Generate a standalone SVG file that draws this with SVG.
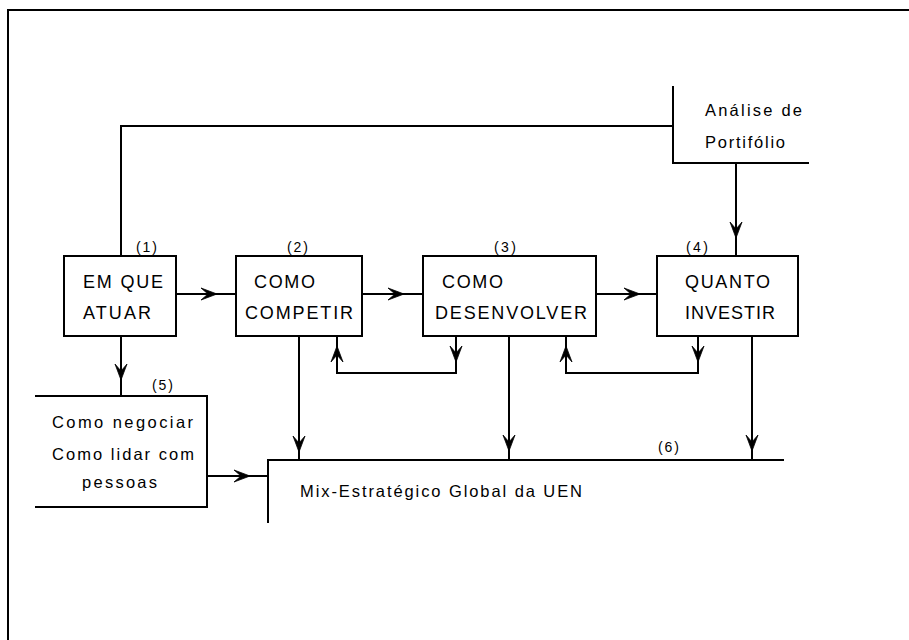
<svg xmlns="http://www.w3.org/2000/svg" xmlns:xlink="http://www.w3.org/1999/xlink" width="909" height="640" viewBox="0 0 909 640">
<style>
.ln{fill:none;stroke:#000;stroke-width:2;stroke-linecap:square}
.bx{fill:#fff;stroke:#000;stroke-width:2}
.t{font-family:"Liberation Sans",Arial,sans-serif;fill:#000}
.big{font-size:18px}
.mid{font-size:16.5px}
.sm{font-size:14px}
</style>
<defs>
<path id="ah" d="M0,0 L-16,-6 L-9,0 L-16,6 Z" fill="#000" stroke="#000" stroke-width="0.8" stroke-linejoin="miter"/>
</defs>
<rect width="909" height="640" fill="#fff"/>
<path class="ln" d="M8,640 V10 H909" stroke-width="3"/>

<g id="connectors">
  <path class="ln" d="M121,256 V126 H673"/>
  <path class="ln" d="M736,163 V256"/>
  <use xlink:href="#ah" transform="translate(736,238) rotate(90)"/>
  <path class="ln" d="M176,294 H236"/>
  <use xlink:href="#ah" transform="translate(217,294)"/>
  <path class="ln" d="M362,294 H423"/>
  <use xlink:href="#ah" transform="translate(404,294)"/>
  <path class="ln" d="M596,294 H657"/>
  <use xlink:href="#ah" transform="translate(640,294)"/>
  <path class="ln" d="M121,336 V396"/>
  <use xlink:href="#ah" transform="translate(121,380) rotate(90)"/>
  <path class="ln" d="M207,476 H268"/>
  <use xlink:href="#ah" transform="translate(250,476)"/>
  <path class="ln" d="M299,336 V460"/>
  <use xlink:href="#ah" transform="translate(299,452) rotate(90)"/>
  <path class="ln" d="M509,336 V460"/>
  <use xlink:href="#ah" transform="translate(509,451) rotate(90)"/>
  <path class="ln" d="M752,336 V460"/>
  <use xlink:href="#ah" transform="translate(752,451) rotate(90)"/>
  <path class="ln" d="M337,336 V373 H456 V336"/>
  <use xlink:href="#ah" transform="translate(337,346) rotate(-90)"/>
  <use xlink:href="#ah" transform="translate(456,362) rotate(90)"/>
  <path class="ln" d="M566,336 V373 H698 V336"/>
  <use xlink:href="#ah" transform="translate(566,346) rotate(-90)"/>
  <use xlink:href="#ah" transform="translate(698,362) rotate(90)"/>
</g>

<g id="portfolio">
  <path class="ln" d="M673,87 V163 H808"/>
  <text class="t mid" x="705" y="116" textLength="97" lengthAdjust="spacing">Análise de</text>
  <text class="t mid" x="705" y="148" textLength="80" lengthAdjust="spacing">Portifólio</text>
</g>

<g id="n1">
  <rect class="bx" x="64" y="256" width="112" height="80"/>
  <text class="t sm" x="136" y="252" textLength="21" lengthAdjust="spacing">(1)</text>
  <text class="t big" x="83" y="288" textLength="80" lengthAdjust="spacing">EM QUE</text>
  <text class="t big" x="83" y="319" textLength="68" lengthAdjust="spacing">ATUAR</text>
</g>

<g id="n2">
  <rect class="bx" x="236" y="256" width="126" height="80"/>
  <text class="t sm" x="287" y="252" textLength="21" lengthAdjust="spacing">(2)</text>
  <text class="t big" x="254" y="288" textLength="61" lengthAdjust="spacing">COMO</text>
  <text class="t big" x="245" y="319" textLength="108" lengthAdjust="spacing">COMPETIR</text>
</g>

<g id="n3">
  <rect class="bx" x="423" y="256" width="173" height="80"/>
  <text class="t sm" x="494" y="252" textLength="22" lengthAdjust="spacing">(3)</text>
  <text class="t big" x="442" y="288" textLength="61" lengthAdjust="spacing">COMO</text>
  <text class="t big" x="435" y="319" textLength="152" lengthAdjust="spacing">DESENVOLVER</text>
</g>

<g id="n4">
  <rect class="bx" x="657" y="256" width="141" height="80"/>
  <text class="t sm" x="686" y="252" textLength="22" lengthAdjust="spacing">(4)</text>
  <text class="t big" x="685" y="288" textLength="85" lengthAdjust="spacing">QUANTO</text>
  <text class="t big" x="685" y="319" textLength="90" lengthAdjust="spacing">INVESTIR</text>
</g>

<g id="n5">
  <path class="ln" d="M36,396 H207 V507 H36"/>
  <text class="t sm" x="152" y="390" textLength="21" lengthAdjust="spacing">(5)</text>
  <text class="t mid" x="52" y="428" textLength="141" lengthAdjust="spacing">Como negociar</text>
  <text class="t mid" x="52" y="460" textLength="142" lengthAdjust="spacing">Como lidar com</text>
  <text class="t mid" x="82" y="488" textLength="75" lengthAdjust="spacing">pessoas</text>
</g>

<g id="n6">
  <path class="ln" d="M268,522 V460 H783"/>
  <text class="t sm" x="658" y="452" textLength="21" lengthAdjust="spacing">(6)</text>
  <text class="t mid" x="300" y="497" textLength="282" lengthAdjust="spacing">Mix-Estratégico Global da UEN</text>
</g>
</svg>
